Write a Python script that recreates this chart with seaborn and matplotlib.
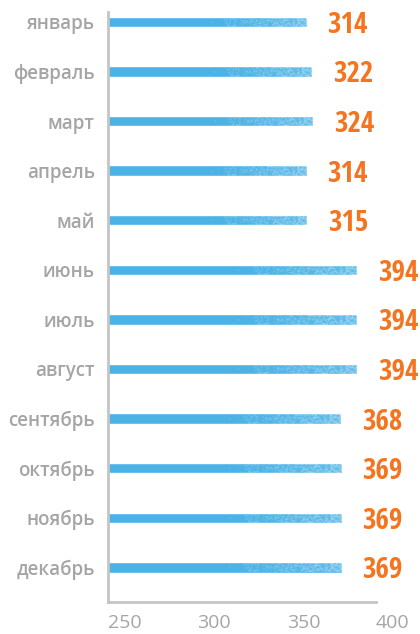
import numpy as np
import pandas as pd
import matplotlib
matplotlib.use("Agg")
import matplotlib.pyplot as plt
import seaborn as sns

months = ["январь", "февраль", "март", "апрель", "май", "июнь",
          "июль", "август", "сентябрь", "октябрь", "ноябрь", "декабрь"]
values = [314, 322, 324, 314, 315, 394, 394, 394, 368, 369, 369, 369]
tick_labels = ["250", "300", "350", "400"]

df = pd.DataFrame({"month": months, "value": values})

sns.set_theme(style="white")
plt.rcParams["font.family"] = ["Open Sans", "DejaVu Sans"]

BAR = "#4bb2e5"
GREY = "#a5a5a5"
ORANGE = "#f47420"

fig = plt.figure(figsize=(4.2, 6.34), dpi=100)
ax = fig.add_axes([108 / 420, 1 - 602 / 634, (376 - 108) / 420, (602 - 12) / 634])

sns.barplot(data=df, y="month", x="value", orient="h", color=BAR,
            saturation=1, width=0.21, ax=ax)

# speckled lighter texture towards bar ends (decorative only)
yy, xx = np.mgrid[0:12, 0:160]
h = np.sin(xx * 12.9898 + yy * 78.233) * 43758.5453
noise = h - np.floor(h)
for p in ax.patches:
    x0, y0 = p.get_x(), p.get_y()
    w, hgt = p.get_width(), p.get_height()
    ramp = np.clip((xx / 159.0 - 0.5) / 0.5, 0, 1)
    alpha = np.where(noise < ramp * 0.6, 0.2 + 0.3 * noise, 0.0) + 0.12 * ramp
    img = np.ones((12, 160, 4))
    img[..., 3] = np.clip(alpha, 0, 1)
    im = ax.imshow(img, extent=[x0, x0 + w, y0 + hgt, y0], aspect="auto",
                   interpolation="bilinear", zorder=p.get_zorder() + 0.1)
    im.set_clip_path(p)

ax.set_xlim(0, 423.5)
ax.set_ylim(11.7, -0.2)

for i, v in enumerate(values):
    ax.annotate(str(v), xy=(v, i), xytext=(15, -2.5), textcoords="offset points",
                ha="left", va="center", color=ORANGE, fontsize=21,
                fontweight="bold",
                family=["Open Sans Condensed", "DejaVu Sans"])

ax.set_xticks([0, 141.2, 282.3, 423.5])
ax.set_xticklabels(tick_labels)
for lab in ax.get_xticklabels():
    lab.set_horizontalalignment("left")

ax.set_xlabel("")
ax.set_ylabel("")
ax.tick_params(axis="x", direction="in", length=8, width=1.5, color="#bdbdbd",
               labelcolor=GREY, labelsize=14, pad=9)
ax.tick_params(axis="y", length=0, labelcolor=GREY, labelsize=13.5, pad=9.5)
for lab in ax.get_yticklabels():
    lab.set_fontweight("semibold")

for s in ["top", "right"]:
    ax.spines[s].set_visible(False)
for s in ["left", "bottom"]:
    ax.spines[s].set_color("#c4c4c4")
    ax.spines[s].set_linewidth(2)
ax.grid(False)

fig.savefig("out.png", dpi=100)
